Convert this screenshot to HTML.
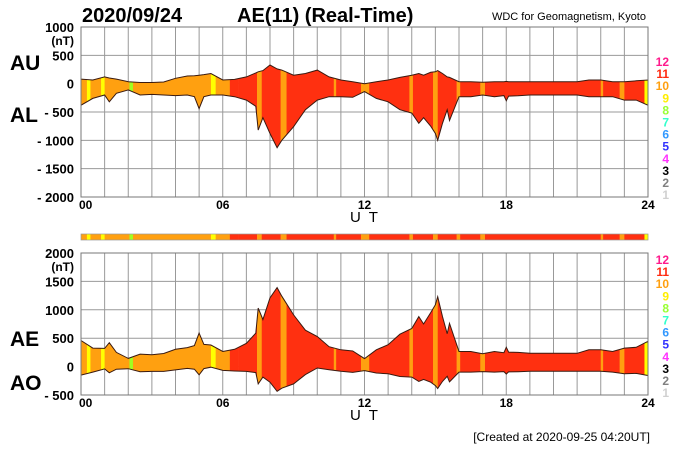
<!DOCTYPE html>
<html><head><meta charset="utf-8"><style>
body{margin:0;background:#fff}
svg{display:block;font-family:"Liberation Sans",Arial,sans-serif}
</style></head><body>
<svg id="chart" width="700" height="450" viewBox="0 0 700 450"></svg>
<script>
const hours=[0,0.5,1,1.2,1.5,2,2.5,3,3.5,4,4.5,4.8,5,5.2,5.5,6,6.5,7,7.4,7.5,7.7,8,8.3,8.5,9,9.5,10,10.5,11,11.5,12,12.5,13,13.5,14,14.3,14.5,14.8,15,15.1,15.3,15.5,15.6,16,16.5,17,17.5,17.9,18,18.1,18.5,19,19.5,20,20.5,21,21.5,22,22.5,23,23.5,24];
const auValues=[80,65,120,100,80,35,20,20,30,95,135,140,150,160,180,65,75,120,190,210,230,330,260,240,150,180,240,120,65,35,0,35,65,110,150,180,150,200,210,230,180,120,110,35,35,25,35,35,40,35,35,35,35,35,35,35,65,65,35,35,50,65];
const alValues=[-380,-260,-200,-320,-170,-110,-200,-190,-200,-210,-200,-230,-440,-230,-200,-200,-230,-290,-400,-820,-600,-880,-1130,-1000,-760,-460,-290,-230,-230,-240,-140,-260,-320,-460,-520,-700,-600,-750,-880,-1000,-700,-460,-650,-230,-230,-200,-230,-210,-300,-220,-215,-200,-200,-200,-200,-200,-230,-230,-230,-290,-290,-380];
const segStarts=[0,0.25,0.4,0.85,1.0,2.05,2.2,5.5,5.7,6.3,6.65,7.45,7.65,8.45,8.7,10.7,10.8,11.85,12.2,13.9,14.05,14.9,15.1,15.9,16.05,16.9,17.1,22.0,22.1,22.8,23.0,23.85];
const segCounts=[10,9,10,9,10,8,10,9,10,11,11,10,11,10,11,10,11,10,11,10,11,10,11,10,11,10,11,10,11,10,11,9];
const legendNums=[12,11,10,9,8,7,6,5,4,3,2,1];
const legendColors=["#ff1a8c","#ff2a10","#ffa010","#ffee00","#99ff33","#33ffcc","#3399ff","#3333ff","#ff33ff","#000000","#808080","#d0d0d0"];
const topTicks=[1000,500,0,-500,-1000,-1500,-2000];
const botTicks=[2000,1500,1000,500,0,-500];
const xTicks=["00","06","12","18","24"];
const countColor={8:"#a0ff20",9:"#ffff00",10:"#ffa010",11:"#ff3010"};

const NS="http://www.w3.org/2000/svg";
const svg=document.getElementById('chart');
function mk(tag,attrs,parent){const e=document.createElementNS(NS,tag);for(const k in attrs)e.setAttribute(k,attrs[k]);(parent||svg).appendChild(e);return e;}
const X0=81,X1=648;
const xs=h=>X0+(X1-X0)*h/24;
const yTop=v=>27+(1000-v)*(170/3000);
const yBot=v=>253+(2000-v)*(142/2500);

function txt(x,y,s,size,opts){const t=mk('text',Object.assign({x:x,y:y,'font-size':size,'font-weight':'bold',fill:'#000'},opts||{}));t.textContent=s;return t;}

function panel(name,yf,ticks,upper,lower,lab1,lab2,lab1y,lab2y,legY){
  const g=mk('g',{});
  
  
  const ytop=yf(ticks[0]),ybot=yf(ticks[ticks.length-1]);
  mk('rect',{x:X0,y:ytop,width:X1-X0,height:ybot-ytop,fill:'#fff'},g);
  for(let h=1;h<24;h++){const l=mk('line',{x1:xs(h),x2:xs(h),y1:ytop,y2:ybot,stroke:'#999','stroke-width':1},g);}
  ticks.forEach((v,i)=>{
    if(i>0&&i<ticks.length-1){const l=mk('line',{x1:X0,x2:X1,y1:yf(v),y2:yf(v),stroke:'#999','stroke-width':1},g);}
    const lab=(v<0?'- '+(-v):String(v));
    const t=txt(74,yf(v)+5,lab,13,{'text-anchor':'end'});
    
    g.appendChild(t);
  });
  const u=txt(74,ytop+18,'(nT)',12,{'text-anchor':'end'});g.appendChild(u);
  let d='';
  hours.forEach((h,i)=>{d+=(i?'L':'M')+xs(h).toFixed(1)+','+yf(upper[i]).toFixed(1);});
  for(let i=hours.length-1;i>=0;i--)d+='L'+xs(hours[i]).toFixed(1)+','+yf(lower[i]).toFixed(1);
  d+='Z';
  const cp=mk('clipPath',{id:'clip-'+name},g);mk('path',{d:d},cp);
  const fg=mk('g',{'clip-path':'url(#clip-'+name+')'},g);
  segStarts.forEach((s,i)=>{const e=i+1<segStarts.length?segStarts[i+1]:24;
    const r=mk('rect',{x:xs(s),y:ytop,width:xs(e)-xs(s)+0.3,height:ybot-ytop,fill:countColor[segCounts[i]]},fg);
    });
  const p=mk('path',{d:d,fill:'none',stroke:'#3a1a10','stroke-width':1},g);
  
  mk('rect',{x:X0,y:ytop,width:X1-X0,height:ybot-ytop,fill:'none',stroke:'#777','stroke-width':1},g);
  xTicks.forEach((s,i)=>{const t=txt(xs(i*6),ybot+12,s,12,{'text-anchor':'middle'});if(i==0){t.setAttribute('x',X0-2);t.setAttribute('text-anchor','start');}g.appendChild(t);});
  const ut=txt(365,ybot+25,'U T',15,{'text-anchor':'middle','font-weight':'normal','letter-spacing':'2'});g.appendChild(ut);
  const a=txt(10,lab1y,lab1,21);g.appendChild(a);
  const b=txt(10,lab2y,lab2,21);g.appendChild(b);
  legendNums.forEach((n,i)=>{const t=txt(669,legY+i*12.1,String(n),12,{'text-anchor':'end',fill:legendColors[i]});g.appendChild(t);});
}
panel('au-al',yTop,topTicks,auValues,alValues,'AU','AL',70,122,66);
const aeValues=auValues.map((u,i)=>u-alValues[i]);
const aoValues=auValues.map((u,i)=>(u+alValues[i])/2);
panel('ae-ao',yBot,botTicks,aeValues,aoValues,'AE','AO',346,390,264);

const cb=mk('g',{});
segStarts.forEach((s,i)=>{const e=i+1<segStarts.length?segStarts[i+1]:24;
  const r=mk('rect',{x:xs(s),y:234,width:xs(e)-xs(s)+0.3,height:6,fill:countColor[segCounts[i]]},cb);
  });
mk('rect',{x:X0,y:234,width:X1-X0,height:6,fill:'none',stroke:'#999','stroke-width':0.7},cb);

let t=txt(82,22,'2020/09/24',20);
t=txt(237,22,'AE(11) (Real-Time)',20);
t=txt(646,20,'WDC for Geomagnetism, Kyoto',11,{'text-anchor':'end','font-weight':'normal'});
t=txt(650,441,'[Created at 2020-09-25 04:20UT]',12,{'text-anchor':'end','font-weight':'normal'});
</script>
</body></html>
